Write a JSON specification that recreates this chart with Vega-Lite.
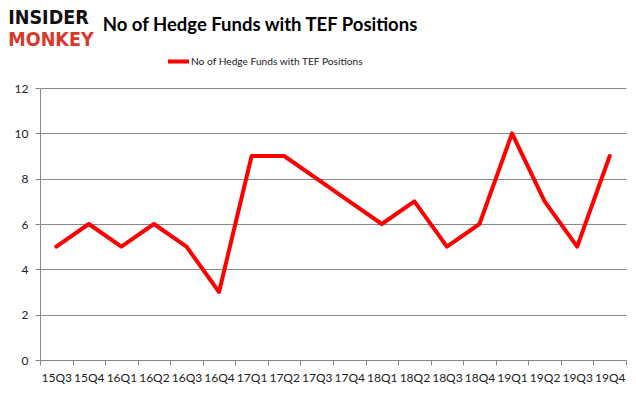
{
  "$schema": "https://vega.github.io/schema/vega-lite/v6.json",
  "width": 586,
  "height": 272,
  "autosize": {"type": "none"},
  "padding": {"left": 40, "top": 88, "right": 10, "bottom": 45},
  "background": "white",
  "config": {"view": {"stroke": null}, "font": "Lato"},
  "title": {
    "text": "No of Hedge Funds with TEF Positions",
    "font": "Lato",
    "fontSize": 18.5,
    "fontWeight": "bold",
    "color": "#000000",
    "anchor": "middle",
    "frame": "group",
    "dx": -73,
    "offset": -27
  },
  "resolve": {"scale": {"color": "independent"}},
  "layer": [
    {
      "data": {
        "values": [
          {"q": "15Q3", "v": 5, "s": "No of Hedge Funds with TEF Positions"},
          {"q": "15Q4", "v": 6, "s": "No of Hedge Funds with TEF Positions"},
          {"q": "16Q1", "v": 5, "s": "No of Hedge Funds with TEF Positions"},
          {"q": "16Q2", "v": 6, "s": "No of Hedge Funds with TEF Positions"},
          {"q": "16Q3", "v": 5, "s": "No of Hedge Funds with TEF Positions"},
          {"q": "16Q4", "v": 3, "s": "No of Hedge Funds with TEF Positions"},
          {"q": "17Q1", "v": 9, "s": "No of Hedge Funds with TEF Positions"},
          {"q": "17Q2", "v": 9, "s": "No of Hedge Funds with TEF Positions"},
          {"q": "17Q3", "v": 8, "s": "No of Hedge Funds with TEF Positions"},
          {"q": "17Q4", "v": 7, "s": "No of Hedge Funds with TEF Positions"},
          {"q": "18Q1", "v": 6, "s": "No of Hedge Funds with TEF Positions"},
          {"q": "18Q2", "v": 7, "s": "No of Hedge Funds with TEF Positions"},
          {"q": "18Q3", "v": 5, "s": "No of Hedge Funds with TEF Positions"},
          {"q": "18Q4", "v": 6, "s": "No of Hedge Funds with TEF Positions"},
          {"q": "19Q1", "v": 10, "s": "No of Hedge Funds with TEF Positions"},
          {"q": "19Q2", "v": 7, "s": "No of Hedge Funds with TEF Positions"},
          {"q": "19Q3", "v": 5, "s": "No of Hedge Funds with TEF Positions"},
          {"q": "19Q4", "v": 9, "s": "No of Hedge Funds with TEF Positions"}
        ]
      },
      "mark": {"type": "line", "strokeWidth": 4, "strokeCap": "round", "strokeJoin": "round"},
      "encoding": {
        "x": {
          "field": "q",
          "type": "ordinal",
          "sort": null,
          "scale": {"type": "band", "paddingInner": 0, "paddingOuter": 0},
          "axis": {
            "title": null,
            "labelAngle": 0,
            "labelFont": "Lato",
            "labelFontSize": 12,
            "labelColor": "#222222",
            "labelPadding": 7,
            "domainColor": "#888888",
            "tickColor": "#888888",
            "tickSize": 5,
            "tickBand": "extent",
            "grid": false
          }
        },
        "y": {
          "field": "v",
          "type": "quantitative",
          "scale": {"domain": [0, 12]},
          "axis": {
            "title": null,
            "values": [0, 2, 4, 6, 8, 10, 12],
            "labelFont": "Lato",
            "labelFontSize": 12,
            "labelColor": "#222222",
            "labelPadding": 7,
            "domainColor": "#888888",
            "tickColor": "#888888",
            "tickSize": 5,
            "gridColor": "#888888",
            "gridOpacity": 1,
            "gridWidth": 1
          }
        },
        "color": {
          "field": "s",
          "type": "nominal",
          "scale": {"range": ["#ff0000"]},
          "legend": {
            "title": null,
            "orient": "none",
            "legendX": 126,
            "legendY": -39,
            "symbolType": "stroke",
            "symbolStrokeWidth": 4,
            "symbolSize": 440,
            "labelFont": "Lato",
            "labelFontSize": 10.2,
            "labelColor": "#222222",
            "labelOffset": 0,
            "labelLimit": 400
          }
        }
      }
    },
    {
      "data": {"values": [{"t": "INSIDER", "r": 0}, {"t": "MONKEY", "r": 1}]},
      "mark": {"type": "text", "font": "DejaVu Sans Condensed", "fontWeight": "bold", "fontSize": 19.5, "align": "left", "baseline": "middle", "dx": -48},
      "encoding": {
        "x": {"datum": "15Q3", "type": "ordinal"},
        "y": {"datum": 12, "type": "quantitative"},
        "yOffset": {"field": "r", "type": "ordinal", "scale": {"type": "point", "padding": 0, "range": [-70.5, -48.5]}},
        "color": {"field": "t", "type": "nominal", "scale": {"domain": ["INSIDER", "MONKEY"], "range": ["#111111", "#d9382a"]}, "legend": null},
        "text": {"field": "t"}
      }
    }
  ]
}
